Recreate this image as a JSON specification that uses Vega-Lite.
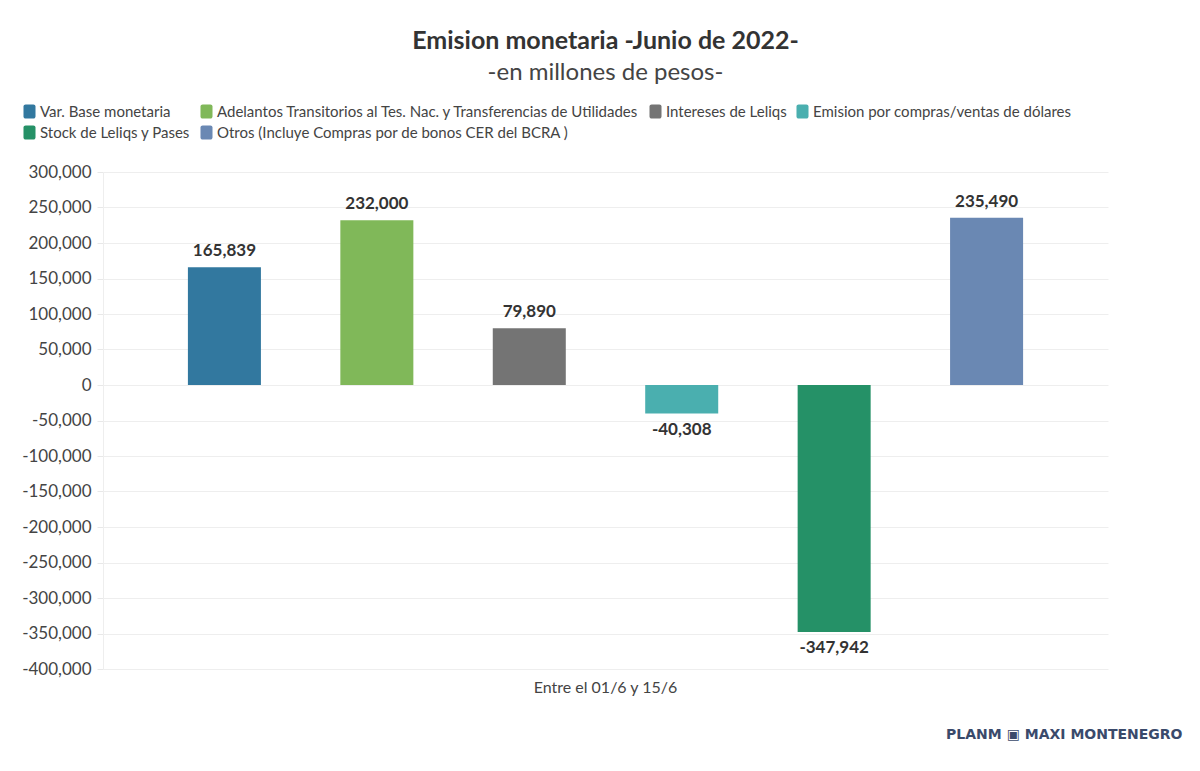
{
  "$schema": "https://vega.github.io/schema/vega-lite/v6.json",
  "autosize": {"type": "none"},
  "width": 1005,
  "height": 497,
  "padding": {"left": 103, "top": 172, "right": 92, "bottom": 102},
  "background": "white",
  "config": {
    "font": "Lato",
    "view": {"stroke": null},
    "locale": {
      "number": {"decimal": ".", "thousands": ",", "grouping": [3], "currency": ["$", ""], "minus": "-"}
    }
  },
  "title": {
    "text": "Emision monetaria -Junio de 2022-",
    "subtitle": "-en millones de pesos-",
    "anchor": "middle",
    "font": "Lato",
    "fontSize": 25,
    "fontWeight": "bold",
    "color": "#333333",
    "subtitleFont": "Lato",
    "subtitleFontSize": 24,
    "subtitleColor": "#444444",
    "subtitlePadding": 7,
    "offset": 19
  },
  "data": {
    "values": [
      {"periodo": "Entre el 01/6 y 15/6", "serie": "Var. Base monetaria", "valor": 165839},
      {"periodo": "Entre el 01/6 y 15/6", "serie": "Adelantos Transitorios al Tes. Nac. y Transferencias de Utilidades", "valor": 232000},
      {"periodo": "Entre el 01/6 y 15/6", "serie": "Intereses de Leliqs", "valor": 79890},
      {"periodo": "Entre el 01/6 y 15/6", "serie": "Emision por compras/ventas de dólares", "valor": -40308},
      {"periodo": "Entre el 01/6 y 15/6", "serie": "Stock de Leliqs y Pases", "valor": -347942},
      {"periodo": "Entre el 01/6 y 15/6", "serie": "Otros (Incluye Compras por de bonos CER del BCRA )", "valor": 235490}
    ]
  },
  "encoding": {
    "x": {
      "field": "periodo",
      "type": "nominal",
      "scale": {"paddingInner": 0, "paddingOuter": 0},
      "axis": {
        "title": "PLANM  ▣  MAXI MONTENEGRO",
        "titleAnchor": "end",
        "titleAlign": "right",
        "titleX": 1079,
        "titleY": 58,
        "titleFont": "DejaVu Sans",
        "titleFontSize": 14,
        "titleFontWeight": "bold",
        "titleColor": "#3a4a6b",
        "labelAngle": 0,
        "labelFontSize": 16,
        "labelColor": "#444444",
        "labelPadding": 10,
        "ticks": false,
        "domain": false
      }
    },
    "xOffset": {
      "field": "serie",
      "type": "nominal",
      "sort": null,
      "scale": {"paddingInner": 0.521, "paddingOuter": 0.557}
    },
    "y": {
      "field": "valor",
      "type": "quantitative",
      "scale": {"domain": [-400000, 300000], "nice": false, "zero": true},
      "axis": {
        "title": null,
        "values": [-400000, -350000, -300000, -250000, -200000, -150000, -100000, -50000, 0, 50000, 100000, 150000, 200000, 250000, 300000],
        "format": ",.0f",
        "labelFontSize": 17,
        "labelColor": "#444444",
        "labelPadding": 6,
        "tickSize": 6,
        "tickColor": "#e8e8e8",
        "domain": true,
        "domainColor": "#eeeeee",
        "gridColor": "#eeeeee",
        "grid": true
      }
    }
  },
  "layer": [
    {
      "mark": {"type": "bar"},
      "encoding": {
        "color": {
          "field": "serie",
          "type": "nominal",
          "sort": null,
          "scale": {
            "domain": [
              "Var. Base monetaria",
              "Adelantos Transitorios al Tes. Nac. y Transferencias de Utilidades",
              "Intereses de Leliqs",
              "Emision por compras/ventas de dólares",
              "Stock de Leliqs y Pases",
              "Otros (Incluye Compras por de bonos CER del BCRA )"
            ],
            "range": ["#32789f", "#80b859", "#747474", "#4aafaf", "#259167", "#6a88b3"]
          },
          "legend": {
            "title": null,
            "orient": "none",
            "legendX": -81,
            "legendY": -68,
            "direction": "horizontal",
            "columns": 4,
            "gridAlign": "none",
            "columnPadding": 8,
            "rowPadding": 5,
            "symbolType": "M-0.55,-1 h1.1 a0.3,0.3 0 0 1 0.3,0.3 v1.4 a0.3,0.3 0 0 1 -0.3,0.3 h-1.1 a0.3,0.3 0 0 1 -0.3,-0.3 v-1.4 a0.3,0.3 0 0 1 0.3,-0.3 z",
            "symbolSize": 200,
            "symbolStrokeWidth": 0,
            "symbolOpacity": 1,
            "labelFontSize": 15,
            "labelColor": "#444444",
            "labelOffset": 3,
            "labelLimit": 600
          }
        }
      }
    },
    {
      "transform": [{"filter": "datum.valor >= 0"}],
      "mark": {"type": "text", "baseline": "bottom", "dy": -7, "fontSize": 17, "fontWeight": "bold", "color": "#333333"},
      "encoding": {
        "text": {"field": "valor", "type": "quantitative", "format": ",.0f"}
      }
    },
    {
      "transform": [{"filter": "datum.valor < 0"}],
      "mark": {"type": "text", "baseline": "top", "dy": 8, "fontSize": 17, "fontWeight": "bold", "color": "#333333"},
      "encoding": {
        "text": {"field": "valor", "type": "quantitative", "format": ",.0f"}
      }
    }
  ]
}
